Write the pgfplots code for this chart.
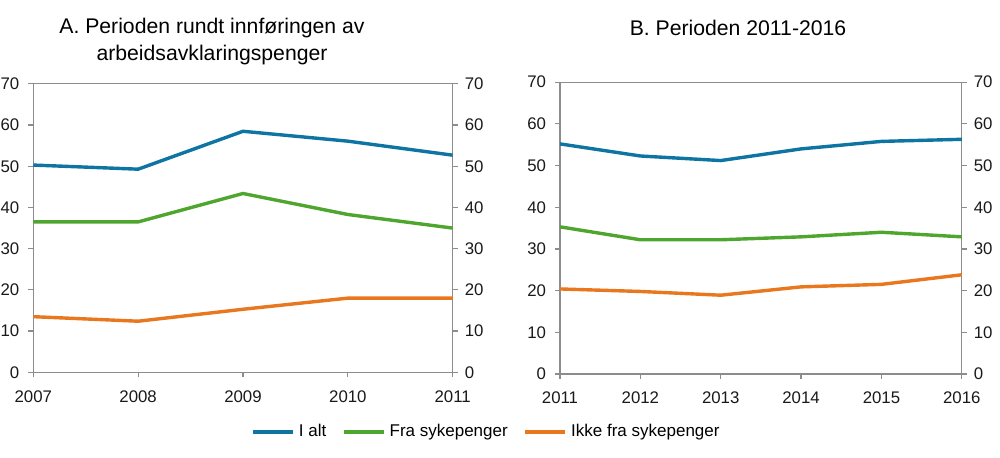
\documentclass[border=0pt]{standalone}
\usepackage{pgfplots}
\pgfplotsset{compat=1.18}
\usepackage{fontspec}
\setmainfont{Liberation Sans}

\definecolor{ialt}{HTML}{0E74A2}
\definecolor{fra}{HTML}{4FA62F}
\definecolor{ikke}{HTML}{E8771E}
\definecolor{axgray}{HTML}{8C8C8C}

\pgfplotsset{
  panel/.style={
    scale only axis,
    ymin=0, ymax=70, ytick distance=10,
    tick align=outside,
    major tick length=2.5pt,
    axis line style={axgray, line width=0.6pt},
    tick style={axgray, line width=0.6pt},
    tick label style={font=\fontsize{8.4}{10}\selectfont, text=black!90},
    /pgf/number format/assume math mode=true,
    /pgf/number format/1000 sep={},
    xtick pos=bottom, ytick pos=left,
    xticklabel style={yshift=-3pt},
    yticklabel style={xshift=-1pt},
    every axis plot/.append style={line width=1.7pt, mark=none},
  },
  rightlabels/.style={
    scale only axis,
    ymin=0, ymax=70, ytick distance=10,
    hide x axis,
    axis y line*=right,
    tick align=outside,
    major tick length=2.5pt,
    y axis line style={draw=none},
    tick style={axgray, line width=0.6pt},
    tick label style={font=\fontsize{8.4}{10}\selectfont, text=black!90},
    /pgf/number format/assume math mode=true,
  },
}

\begin{document}
\begin{tikzpicture}
\useasboundingbox (0,0) rectangle (500pt,229pt);

% Panel A
\begin{axis}[panel,
    at={(16.65pt,42.85pt)}, anchor=south west,
    width=209.7pt, height=144.2pt,
    xmin=2007, xmax=2011, xtick={2007,2008,2009,2010,2011},
    legend columns=-1,
    legend style={at={(1.083,-0.207)}, anchor=center, draw=none,
      font=\fontsize{8.5}{10}\selectfont,
      /tikz/every even column/.append style={column sep=6pt}},
    legend image code/.code={\draw[#1, line width=1.7pt] (0pt,0pt) -- (20pt,0pt);},
  ]
\addplot[ialt] coordinates {(2007,50.3)(2008,49.3)(2009,58.5)(2010,56.1)(2011,52.7)};
\addplot[fra] coordinates {(2007,36.5)(2008,36.5)(2009,43.4)(2010,38.3)(2011,35.0)};
\addplot[ikke] coordinates {(2007,13.5)(2008,12.4)(2009,15.3)(2010,18.0)(2011,18.0)};
\legend{I alt, Fra sykepenger, Ikke fra sykepenger}
\end{axis}
\begin{axis}[rightlabels,
    at={(16.65pt,42.85pt)}, anchor=south west,
    width=209.7pt, height=144.2pt,
    xmin=2007, xmax=2011]
\end{axis}

% Panel B
\begin{axis}[panel,
    at={(280pt,42pt)}, anchor=south west,
    width=200.9pt, height=145.9pt,
    xmin=2011, xmax=2016, xtick={2011,2012,2013,2014,2015,2016},
  ]
\addplot[ialt] coordinates {(2011,55.2)(2012,52.3)(2013,51.2)(2014,54.0)(2015,55.8)(2016,56.3)};
\addplot[fra] coordinates {(2011,35.3)(2012,32.2)(2013,32.2)(2014,32.9)(2015,34.0)(2016,32.9)};
\addplot[ikke] coordinates {(2011,20.4)(2012,19.8)(2013,18.9)(2014,20.9)(2015,21.5)(2016,23.8)};
\end{axis}
\begin{axis}[rightlabels,
    at={(280pt,42pt)}, anchor=south west,
    width=200.9pt, height=145.9pt,
    xmin=2011, xmax=2016]
\end{axis}

% Titles
\node[font=\fontsize{10.6}{13.5}\selectfont, align=center] at (106pt,208pt)
  {A. Perioden rundt innføringen av\\arbeidsavklaringspenger};
\node[font=\fontsize{10.6}{13.5}\selectfont] at (369pt,215pt) {B. Perioden 2011-2016};
\end{tikzpicture}
\end{document}
